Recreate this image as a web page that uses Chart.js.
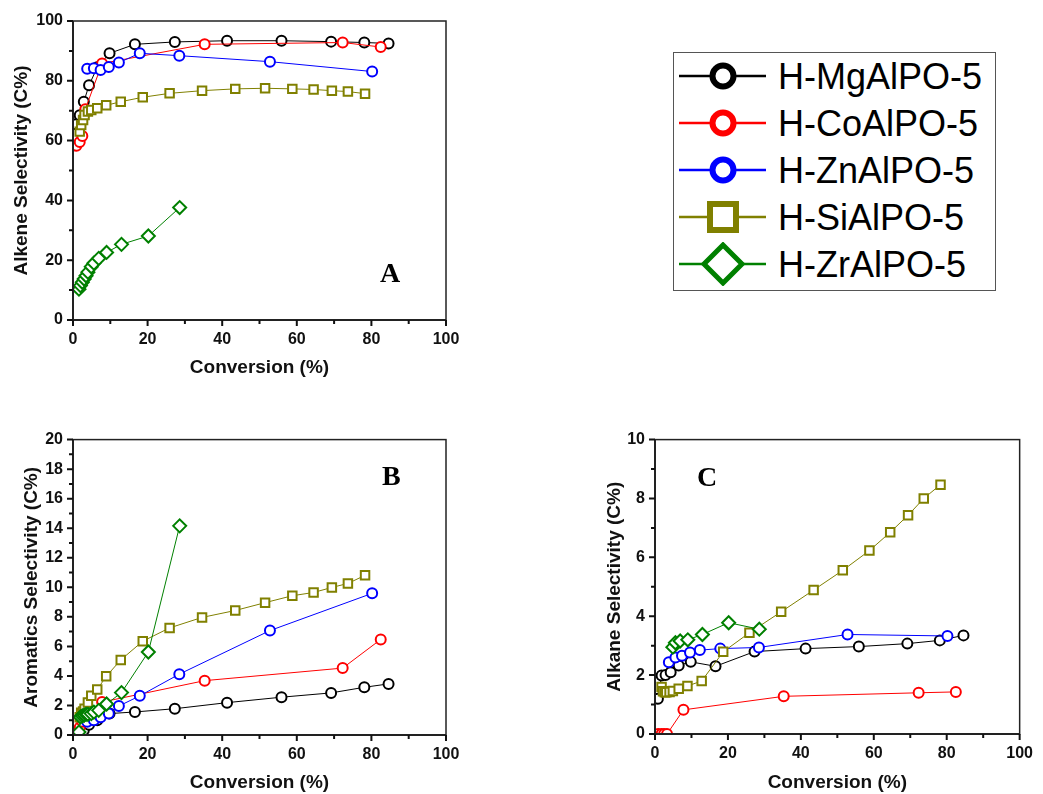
<!DOCTYPE html>
<html>
<head>
<meta charset="utf-8">
<script src="https://cdn.jsdelivr.net/npm/chart.js@4.4.1/dist/chart.umd.min.js"></script>
<style>
  body { margin: 0; width: 1043px; height: 794px; background: #fff; position: relative; overflow: hidden;
         font-family: "Liberation Sans", Arial, sans-serif; }
  canvas { position: absolute; }
  #chartA { left: 0; top: 0; }
  #chartB { left: 0; top: 420px; }
  #chartC { left: 580px; top: 420px; }
  .letter { position: absolute; font-family: "Liberation Serif", "Times New Roman", serif; font-weight: bold;
            font-size: 28px; line-height: 28px; color: #000; }
  #legend { position: absolute; left: 673px; top: 52px; width: 321px; height: 237px; border: 1px solid #555; background: #fff; }
  .row { position: absolute; left: 0; height: 47px; width: 321px; }
  .row svg { position: absolute; left: 5px; top: 1px; }
  .row span { position: absolute; left: 104px; top: 0; line-height: 47px; font-size: 36px; color: #000; white-space: nowrap; }
</style>
</head>
<body>
<canvas id="chartA" width="470" height="390"></canvas>
<canvas id="chartB" width="470" height="374"></canvas>
<canvas id="chartC" width="463" height="374"></canvas>
<div class="letter" style="left:380px; top:259px;">A</div>
<div class="letter" style="left:382px; top:462px;">B</div>
<div class="letter" style="left:697px; top:463px;">C</div>
<div id="legend"></div>
<script>
const seriesNames = ["H-MgAlPO-5", "H-CoAlPO-5", "H-ZnAlPO-5", "H-SiAlPO-5", "H-ZrAlPO-5"];
const seriesColors = ["#000000", "#ff0000", "#0000ff", "#808000", "#008000"];
const seriesMarkers = ["circle", "circle", "circle", "rect", "rectRot"];

// conversion (%) and selectivities (C%)
const mgConv = [0.8, 1.8, 2.9, 4.3, 6.5, 9.8, 16.6, 27.3, 41.3, 55.9, 69.2, 78.1, 84.6];
const mgAlkene = [65.5, 68.5, 73.0, 78.5, 84.5, 89.2, 92.2, 93.0, 93.4, 93.4, 93.1, 92.8, 92.5];
const mgAromatics = [0.1, 0.2, 0.33, 0.7, 1.0, 1.45, 1.56, 1.78, 2.19, 2.56, 2.85, 3.23, 3.46];
const mgAlkane = [1.2, 1.99, 2.0, 2.1, 2.33, 2.45, 2.3, 2.8, 2.9, 2.97, 3.07, 3.18, 3.35];

const coConv = [0.9, 1.8, 2.5, 3.3, 7.8, 35.3, 72.3, 82.5];
const coAlkene = [58.3, 59.5, 61.5, 70.5, 85.8, 92.2, 92.8, 91.3];
const coAromatics = [0.2, 0.5, 0.9, 1.3, 2.23, 3.68, 4.53, 6.47];
const coAlkane = [0, 0, 0, 0, 0.82, 1.28, 1.4, 1.43];

const znConv = [3.8, 5.6, 7.4, 9.6, 12.3, 17.9, 28.5, 52.8, 80.2];
const znAlkene = [84.0, 84.2, 83.6, 84.6, 86.1, 89.2, 88.4, 86.4, 83.1];
const znAromatics = [0.9, 1.0, 1.2, 1.45, 1.96, 2.65, 4.12, 7.07, 9.59];
const znAlkane = [2.44, 2.6, 2.66, 2.77, 2.85, 2.9, 2.94, 3.38, 3.33];

const siConv = [1.8, 2.2, 2.7, 3.1, 4.0, 4.9, 6.5, 8.9, 12.8, 18.7, 25.9, 34.6, 43.5, 51.5, 58.8, 64.5, 69.4, 73.7, 78.3];
const siAlkene = [63.0, 65.2, 66.9, 68.6, 69.7, 70.2, 70.8, 71.8, 73.0, 74.5, 75.8, 76.7, 77.3, 77.5, 77.3, 77.1, 76.7, 76.4, 75.7];
const siAromatics = [1.2, 1.5, 1.6, 1.78, 2.2, 2.65, 3.08, 3.97, 5.08, 6.35, 7.25, 7.96, 8.43, 8.96, 9.43, 9.65, 9.99, 10.26, 10.81];
const siAlkane = [1.6, 1.45, 1.42, 1.42, 1.43, 1.46, 1.54, 1.63, 1.8, 2.79, 3.44, 4.15, 4.89, 5.56, 6.23, 6.85, 7.43, 8.0, 8.47];

const zrConv = [1.6, 2.0, 2.5, 3.0, 3.5, 4.0, 4.9, 5.6, 6.9, 9.0, 13.0, 20.2, 28.6];
const zrAlkene = [10.3, 11.5, 12.6, 13.7, 14.8, 16.0, 17.8, 19.0, 20.6, 22.6, 25.3, 28.1, 37.6];
const zrAromatics = [0.2, 1.22, 1.3, 1.35, 1.4, 1.4, 1.45, 1.55, 1.67, 2.1, 2.87, 5.62, 14.16];
const zrAlkane = [null, null, null, null, null, null, 2.95, 3.1, 3.16, 3.2, 3.38, 3.78, 3.56];

const convData = [mgConv, coConv, znConv, siConv, zrConv];
const alkeneData = [mgAlkene, coAlkene, znAlkene, siAlkene, zrAlkene];
const aromaticsData = [mgAromatics, coAromatics, znAromatics, siAromatics, zrAromatics];
const alkaneData = [mgAlkane, coAlkane, znAlkane, siAlkane, zrAlkane];

const tickFont = { family: "'Liberation Sans', Arial, sans-serif", size: 16, weight: "bold" };
const titleFont = { family: "'Liberation Sans', Arial, sans-serif", size: 19, weight: "bold" };

// frame box + outward major/minor tick marks, like the original plot
function axisBox(xMajor, yMajor) {
  return {
    id: "axisBox",
    afterDraw(chart) {
      const { ctx, chartArea: a } = chart;
      const x = chart.scales.x, y = chart.scales.y;
      ctx.save();
      ctx.strokeStyle = "#222";
      ctx.lineWidth = 1.5;
      ctx.strokeRect(a.left, a.top, a.right - a.left, a.bottom - a.top);
      ctx.lineWidth = 2;
      ctx.beginPath();
      ctx.moveTo(a.left, a.top);
      ctx.lineTo(a.left, a.bottom);
      ctx.lineTo(a.right, a.bottom);
      ctx.stroke();
      ctx.strokeStyle = "#111";
      ctx.lineWidth = 2;
      ctx.beginPath();
      for (const t of x.ticks) {
        const px = x.getPixelForValue(t.value);
        const len = Math.abs(t.value % xMajor) < 1e-6 ? 6 : 4;
        ctx.moveTo(px, a.bottom);
        ctx.lineTo(px, a.bottom + len);
      }
      for (const t of y.ticks) {
        const py = y.getPixelForValue(t.value);
        const len = Math.abs(t.value % yMajor) < 1e-6 ? 6 : 4;
        ctx.moveTo(a.left, py);
        ctx.lineTo(a.left - len, py);
      }
      ctx.stroke();
      ctx.restore();
    }
  };
}

function makeDatasets(yData) {
  return seriesNames.map((name, i) => ({
    label: name,
    data: convData[i].map((c, j) => ({ x: c, y: yData[i][j] })),
    showLine: true,
    borderColor: seriesColors[i],
    borderWidth: 1,
    pointStyle: seriesMarkers[i],
    pointRadius: seriesMarkers[i] === "circle" ? 5 : seriesMarkers[i] === "rect" ? 6 : 6.5,
    pointBorderWidth: 2,
    pointBorderColor: seriesColors[i],
    pointBackgroundColor: "#ffffff",
    order: seriesNames.length - i
  }));
}

function makeChart(id, cfg) {
  return new Chart(document.getElementById(id), {
    type: "scatter",
    data: { datasets: makeDatasets(cfg.data) },
    plugins: [axisBox(20, cfg.yMajor)],
    options: {
      responsive: false,
      animation: false,
      layout: { padding: cfg.padding },
      plugins: {
        legend: { display: false },
        tooltip: { enabled: false }
      },
      scales: {
        x: {
          type: "linear", min: 0, max: 100,
          afterFit: s => { s.height = cfg.xHeight; },
          grid: { display: false, drawTicks: false },
          border: { display: false },
          ticks: {
            stepSize: 10, autoSkip: false, maxRotation: 0, padding: 10,
            color: "#111", font: tickFont,
            callback: v => (v % 20 === 0 ? v : "")
          },
          title: { display: true, text: "Conversion (%)", color: "#111", font: titleFont,
                   padding: { top: 0, bottom: cfg.xTitlePad } }
        },
        y: {
          type: "linear", min: 0, max: cfg.yMax,
          afterFit: s => { s.width = cfg.yWidth; },
          grid: { display: false, drawTicks: false },
          border: { display: false },
          ticks: {
            stepSize: cfg.yMajor / 2, autoSkip: false, padding: 10,
            color: "#111", font: tickFont,
            callback: v => (Math.abs(v % cfg.yMajor) < 1e-6 ? v : "")
          },
          title: { display: true, text: cfg.yTitle, color: "#111", font: titleFont,
                   padding: { top: cfg.yTitlePad, bottom: 0 } }
        }
      }
    }
  });
}

makeChart("chartA", {
  data: alkeneData, yMax: 100, yMajor: 20, yTitle: "Alkene Selectivity (C%)",
  padding: { left: 0, top: 21, right: 24, bottom: 0 }, xHeight: 70, yWidth: 73,
  xTitlePad: 10.6, yTitlePad: 10.6
});
makeChart("chartB", {
  data: aromaticsData, yMax: 20, yMajor: 2, yTitle: "Aromatics Selectivity (C%)",
  padding: { left: 0, top: 16, right: 24, bottom: 0 }, xHeight: 59, yWidth: 73,
  xTitlePad: 0, yTitlePad: 20.3
});
makeChart("chartC", {
  data: alkaneData, yMax: 10, yMajor: 2, yTitle: "Alkane Selectivity (C%)",
  padding: { left: 0, top: 16, right: 16, bottom: 0 }, xHeight: 60, yWidth: 75,
  xTitlePad: 0, yTitlePad: 23.6
});

// legend box
const legend = document.getElementById("legend");
seriesNames.forEach((name, i) => {
  const c = seriesColors[i];
  let marker;
  if (seriesMarkers[i] === "circle") {
    marker = `<circle cx="44" cy="22" r="10.5" fill="#fff" stroke="${c}" stroke-width="6"/>`;
  } else if (seriesMarkers[i] === "rect") {
    marker = `<rect x="31" y="9" width="26" height="26" fill="#fff" stroke="${c}" stroke-width="6"/>`;
  } else {
    marker = `<polygon points="44,3 63,22 44,41 25,22" fill="#fff" stroke="${c}" stroke-width="5"/>`;
  }
  const row = document.createElement("div");
  row.className = "row";
  row.style.top = (47 * i) + "px";
  row.innerHTML =
    `<svg width="90" height="44"><line x1="0" y1="22" x2="87" y2="22" stroke="${c}" stroke-width="2.5"/>${marker}</svg>` +
    `<span>${name}</span>`;
  legend.appendChild(row);
});
</script>
</body>
</html>
